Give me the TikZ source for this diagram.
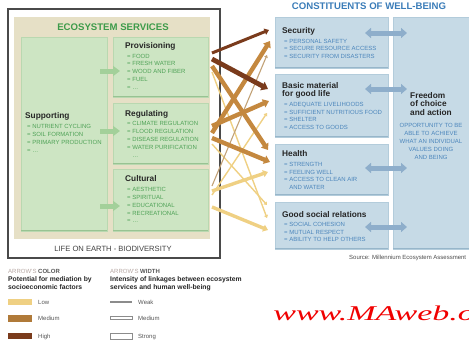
\documentclass[tikz,border=0pt]{standalone}
\usepackage{fontspec}
\setmainfont{Liberation Sans}
\newfontfamily\urlserif{Liberation Serif}
\usetikzlibrary{arrows.meta}

\definecolor{panelbeige}{HTML}{E6E0C6}
\definecolor{greenfill}{HTML}{CDE5C3}
\definecolor{greenline}{HTML}{B9D8B0}
\definecolor{greenshade}{HTML}{98C392}
\definecolor{greentext}{HTML}{4FA257}
\definecolor{greentitle}{HTML}{3D9B4A}
\definecolor{greenarrow}{HTML}{A3D09A}
\definecolor{bluefill}{HTML}{C6DAE6}
\definecolor{blueline}{HTML}{B3CCDB}
\definecolor{blueshade}{HTML}{97B6CA}
\definecolor{bluetext}{HTML}{4C86BC}
\definecolor{bluetitle}{HTML}{3A7CB8}
\definecolor{bluearrow}{HTML}{8EAECB}
\definecolor{framegray}{HTML}{4A4A4A}
\definecolor{lowlink}{HTML}{EFD083}
\definecolor{medlink}{HTML}{C4883F}
\definecolor{thinlink}{HTML}{C2A277}
\definecolor{highlink}{HTML}{7A3B1C}
\definecolor{legendgray}{HTML}{555555}
\definecolor{legendlight}{HTML}{B5A6A2}
\definecolor{urlred}{HTML}{F00000}

\begin{document}
\begin{tikzpicture}[x=1pt,y=-1pt,
  box/.style={inner sep=0pt, outer sep=0pt, anchor=north west},
  greenbox/.style={box, fill=greenfill, draw=greenline, line width=0.5pt},
  bluebox/.style={box, fill=bluefill, draw=blueline, line width=0.5pt},
  heading/.style={font=\fontsize{8.3}{9}\selectfont\bfseries, text=black!85, anchor=base west, inner sep=0pt},
  item/.style={font=\fontsize{6}{7}\selectfont, anchor=base west, inner sep=0pt},
  gitem/.style={item, text=greentext},
  bitem/.style={item, text=bluetext},
  title/.style={font=\fontsize{9.6}{11}\selectfont\bfseries, inner sep=0pt},
  link/.style={-{Triangle[length=1.5pt 1.0, width=2pt 1.5]}},
  feed/.style={greenarrow, line width=5pt, -{Triangle[length=7pt, width=10pt]}},
  swap/.style={bluearrow, line width=5pt, {Triangle[length=6pt, width=10pt]}-{Triangle[length=6pt, width=10pt]}},
  legend/.style={font=\fontsize{6}{7}\selectfont, text=legendgray, anchor=base west, inner sep=0pt},
  legendhead/.style={font=\fontsize{6.8}{8}\selectfont\bfseries, text=black!85, anchor=base west, inner sep=0pt},
]
\useasboundingbox (0,0) rectangle (469,343);

% ---------- ecosystem services frame ----------
\node[box, draw=framegray, line width=1.3pt, fill=white, minimum width=212pt, minimum height=249pt] (frame) at (8,9) {};
\node[box, fill=panelbeige, minimum width=196pt, minimum height=222pt] (panel) at (14,17) {};
\node[title, text=greentitle] (es) at (113,27) {ECOSYSTEM SERVICES};
\node[font=\fontsize{7.6}{9}\selectfont, text=black!75, inner sep=0pt] (life) at (113,249) {LIFE ON EARTH - BIODIVERSITY};

\node[greenbox, minimum width=86pt, minimum height=194pt] (sup) at (21,37) {};
\node[greenbox, minimum width=95pt, minimum height=60pt] (prov) at (113,37) {};
\node[greenbox, minimum width=95pt, minimum height=61pt] (reg) at (113,103) {};
\node[greenbox, minimum width=95pt, minimum height=62pt] (cult) at (113,169) {};
\foreach \b in {sup,prov,reg,cult}
  \draw[greenshade, line width=1.4pt] ([yshift=0.7pt]\b.south west) -- ([yshift=0.7pt]\b.south east);

% Supporting
\node[heading] (sup-h) at (25,118) {Supporting};
\foreach \t [count=\i] in {NUTRIENT CYCLING, SOIL FORMATION, PRIMARY PRODUCTION}
  \node[gitem] (sup-\i) at (27,{128.2+8*(\i-1)}) {= \t};
\node[gitem] (sup-4) at (27,152.5) {= \ldots};

% Provisioning
\node[heading] (prov-h) at (125,48) {Provisioning};
\foreach \t [count=\i] in {FOOD, FRESH WATER, WOOD AND FIBER, FUEL}
  \node[gitem] (prov-\i) at (127,{58.2+7.7*(\i-1)}) {= \t};
\node[gitem] (prov-5) at (127,89.5) {= \ldots};

% Regulating
\node[heading] (reg-h) at (125,116) {Regulating};
\foreach \t [count=\i] in {CLIMATE REGULATION, FLOOD REGULATION, DISEASE REGULATION, WATER PURIFICATION}
  \node[gitem] (reg-\i) at (127,{125.2+8*(\i-1)}) {= \t};
\node[gitem] (reg-5) at (127,157.5) {\phantom{=} \ldots};

% Cultural
\node[heading] (cult-h) at (125,181) {Cultural};
\foreach \t [count=\i] in {AESTHETIC, SPIRITUAL, EDUCATIONAL, RECREATIONAL}
  \node[gitem] (cult-\i) at (127,{191.2+8*(\i-1)}) {= \t};
\node[gitem] (cult-5) at (127,222.5) {= \ldots};

% supporting services feed the other three
\coordinate (fa1) at (100,71);  \coordinate (fb1) at (120,71);
\coordinate (fa2) at (100,131); \coordinate (fb2) at (120,131);
\coordinate (fa3) at (100,206); \coordinate (fb3) at (120,206);
\draw[feed] (fa1) -- (fb1);
\draw[feed] (fa2) -- (fb2);
\draw[feed] (fa3) -- (fb3);

% ---------- constituents of well-being ----------
\node[title, text=bluetitle] (cw) at (369,6) {CONSTITUENTS OF WELL-BEING};
\node[bluebox, minimum width=113pt, minimum height=51pt] (sec) at (275,17) {};
\node[bluebox, minimum width=113pt, minimum height=63pt] (basic) at (275,74) {};
\node[bluebox, minimum width=113pt, minimum height=51pt] (health) at (275,144) {};
\node[bluebox, minimum width=113pt, minimum height=47pt] (social) at (275,202) {};
\node[bluebox, minimum width=95pt, minimum height=232pt] (free) at (393,17) {};
\foreach \b in {sec,basic,health,social,free}
  \draw[blueshade, line width=1.4pt] ([yshift=0.7pt]\b.south west) -- ([yshift=0.7pt]\b.south east);

\node[heading] (sec-h) at (282,33) {Security};
\foreach \t [count=\i] in {PERSONAL SAFETY, SECURE RESOURCE ACCESS, SECURITY FROM DISASTERS}
  \node[bitem] (sec-\i) at (284,{43.2+7.6*(\i-1)}) {= \t};

\node[heading] (basic-h1) at (282,88) {Basic material};
\node[heading] (basic-h2) at (282,96.5) {for good life};
\foreach \t [count=\i] in {ADEQUATE LIVELIHOODS, SUFFICIENT NUTRITIOUS FOOD, SHELTER, ACCESS TO GOODS}
  \node[bitem] (basic-\i) at (284,{106.2+7.8*(\i-1)}) {= \t};

\node[heading] (health-h) at (282,156) {Health};
\foreach \t [count=\i] in {STRENGTH, FEELING WELL, ACCESS TO CLEAN AIR}
  \node[bitem] (health-\i) at (284,{166.2+7.8*(\i-1)}) {= \t};
\node[bitem] (health-4) at (284,189.6) {\phantom{= }AND WATER};

\node[heading] (social-h) at (282,217) {Good social relations};
\foreach \t [count=\i] in {SOCIAL COHESION, MUTUAL RESPECT, ABILITY TO HELP OTHERS}
  \node[bitem] (social-\i) at (284,{226.2+7.8*(\i-1)}) {= \t};

\node[heading] (free-h1) at (410,98) {Freedom};
\node[heading] (free-h2) at (410,106.5) {of choice};
\node[heading] (free-h3) at (410,115) {and action};
\foreach \t [count=\i] in {OPPORTUNITY TO BE, ABLE TO ACHIEVE, WHAT AN INDIVIDUAL, VALUES DOING, AND BEING}
  \node[item, text=bluetext, anchor=base] (free-\i) at (431,{127.2+8*(\i-1)}) {\t};

% links between each constituent and freedom of choice
\foreach \y [count=\i] in {33,89,168,227} {
  \coordinate (sa\i) at (365,\y);
  \coordinate (sb\i) at (407,\y);
  \draw[swap] (sa\i) -- (sb\i);
}

\node[font=\fontsize{6}{7}\selectfont, text=black!70, anchor=base west, inner sep=0pt] (src) at (349,259) {Source: Millennium Ecosystem Assessment};

% ---------- linkages from services to well-being ----------
\coordinate (pA) at (212,53);  \coordinate (secA) at (269,30);
\coordinate (pB) at (212,59);  \coordinate (basB) at (268,89);
\coordinate (pC) at (212,66);  \coordinate (heaC) at (268,150);
\coordinate (pD) at (212,72);  \coordinate (socD) at (267,218);
\coordinate (rA) at (212,133); \coordinate (secB) at (270,41);
\coordinate (rB) at (212,126); \coordinate (basC) at (269,101);
\coordinate (rC) at (212,138); \coordinate (heaD) at (270,162);
\coordinate (rD) at (212,144); \coordinate (socE) at (267,205);
\coordinate (cA) at (212,186); \coordinate (secC) at (267,55);
\coordinate (cB) at (212,195); \coordinate (basD) at (267,113);
\coordinate (cC) at (212,191); \coordinate (heaE) at (268,172);
\coordinate (cD) at (212,207); \coordinate (socF) at (268,230);

% low mediation
\draw[link, lowlink, line width=1.4pt] (pD) -- (socD);
\draw[link, lowlink, line width=1.4pt] (rD) -- (socE);
\draw[link, lowlink, line width=1.4pt] (cB) -- (basD);
\draw[link, thinlink, line width=1.1pt] (cA) -- (secC);
\draw[link, lowlink, line width=3.4pt] (cC) -- (heaE);
\draw[link, lowlink, line width=3.4pt] (cD) -- (socF);
% medium mediation
\draw[link, medlink, line width=4.4pt] (pC) -- (heaC);
\draw[link, medlink, line width=4.4pt] (rA) -- (secB);
\draw[link, medlink, line width=4.4pt] (rB) -- (basC);
\draw[link, medlink, line width=4.4pt] (rC) -- (heaD);
% high mediation
\draw[link, highlink, line width=3pt] (pA) -- (secA);
\draw[link, highlink, line width=4.8pt] (pB) -- (basB);

% ---------- legend ----------
\node[legend, text=legendlight] (lc) at (8,273.2) {ARROW’S \textcolor{legendgray}{\bfseries COLOR}};
\node[legendhead] (lc1) at (8,281.5) {Potential for mediation by};
\node[legendhead] (lc2) at (8,289.5) {socioeconomic factors};
\node[box, fill=lowlink, minimum width=24pt, minimum height=6.5pt] (sw1) at (8,298.8) {};
\node[box, fill=medlink!90!black, minimum width=24pt, minimum height=6.5pt] (sw2) at (8,315.2) {};
\node[box, fill=highlink, minimum width=24pt, minimum height=6.5pt] (sw3) at (8,332.8) {};
\node[legend] (sl1) at (38,304.2) {Low};
\node[legend] (sl2) at (38,320.6) {Medium};
\node[legend] (sl3) at (38,338.2) {High};

\node[legend, text=legendlight] (lw) at (110,273.2) {ARROW’S \textcolor{legendgray}{\bfseries WIDTH}};
\node[legendhead] (lw1) at (110,281.5) {Intensity of linkages between ecosystem};
\node[legendhead] (lw2) at (110,289.5) {services and human well-being};
\coordinate (wa) at (110,302); \coordinate (wb) at (132,302);
\draw[black!45, line width=1.3pt] (wa) -- (wb);
\node[box, draw=black!45, line width=0.6pt, fill=white, minimum width=22pt, minimum height=3pt] (ww2) at (110,316.5) {};
\node[box, draw=black!45, line width=0.6pt, fill=white, minimum width=22pt, minimum height=6pt] (ww3) at (110,333) {};
\node[legend] (wl1) at (138,304.2) {Weak};
\node[legend] (wl2) at (138,320.6) {Medium};
\node[legend] (wl3) at (138,338.2) {Strong};

\node[font=\urlserif\itshape\fontsize{21}{24}\selectfont, text=urlred, anchor=base west, inner sep=0pt, xscale=1.62] (url) at (273,320) {www.MAweb.org};
\end{tikzpicture}
\end{document}
